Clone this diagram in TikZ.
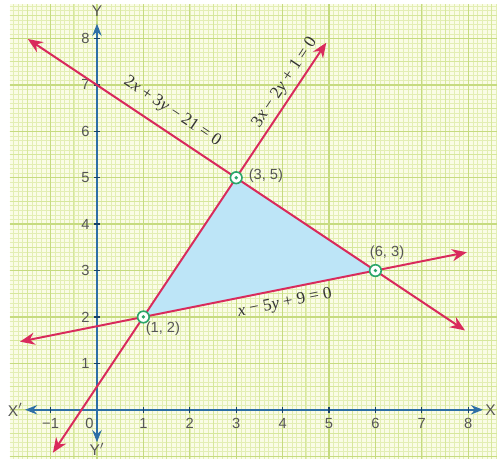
\documentclass[tikz,border=0pt]{standalone}
\usepackage{fontspec}
\setmainfont{Liberation Serif}
\newfontfamily\lsans{Liberation Sans}
\usetikzlibrary{arrows.meta}
\definecolor{gridbg}{HTML}{FAFCE6}
\definecolor{gridfine}{HTML}{E3EEB4}
\definecolor{gridhalf}{HTML}{D6E79C}
\definecolor{gridunit}{HTML}{C6DB80}
\definecolor{axisblue}{HTML}{2E6FA6}
\definecolor{linered}{HTML}{D92A5C}
\definecolor{regionblue}{HTML}{BDE5F7}
\definecolor{ptgreen}{HTML}{2BA66A}
\definecolor{labgray}{HTML}{555555}
\tikzset{
  axisline/.style={draw=axisblue, line width=1.2pt, -{Stealth[length=2.6mm,width=2mm]}},
  graphline/.style={draw=linered, line width=1.2pt, {Stealth[length=3.2mm,width=2.6mm]}-{Stealth[length=3.2mm,width=2.6mm]}},
  ticklab/.style={font=\lsans\fontsize{9}{10}\selectfont, text=labgray, inner sep=1pt},
  eqlab/.style={font=\fontsize{10.5}{12}\selectfont, text=black!80, inner sep=1pt},
  ptlab/.style={font=\lsans\fontsize{9}{10}\selectfont, text=labgray, inner sep=1pt},
  vertex/.style={circle, draw=ptgreen, fill=white, line width=1pt, minimum size=2.5mm, inner sep=0pt},
}
\begin{document}
\begin{tikzpicture}[x=1cm,y=1cm]
\useasboundingbox (-2.09,-1.06) rectangle (8.62,8.83);
\fill[white] (-2.09,-1.06) rectangle (8.62,8.83);
% graph paper
\fill[gridbg] (-1.88,-1.06) rectangle (8.62,8.74);
\draw[gridfine, line width=0.3pt, step=0.1] (-1.88,-1.06) grid (8.62,8.74);
\draw[gridhalf, line width=0.5pt, step=0.5] (-1.88,-1.06) grid (8.62,8.74);
\draw[gridunit, line width=0.8pt, step=1] (-1.88,-1.06) grid (8.62,8.74);
% feasible region
\coordinate (P1) at (1,2);
\coordinate (P2) at (3,5);
\coordinate (P3) at (6,3);
\fill[regionblue] (P1) -- (P2) -- (P3) -- cycle;
% axes
\coordinate (xl) at (-1.55,0);
\coordinate (xr) at (8.32,0);
\coordinate (yb) at (0,-0.70);
\coordinate (yt) at (0,8.32);
\draw[axisline] (0,0) -- (xr);
\draw[axisline] (0,0) -- (xl);
\draw[axisline] (0,0) -- (yt);
\draw[axisline] (0,0) -- (yb);
\node[ticklab, font=\lsans\fontsize{9.5}{10}\selectfont] (X) at (8.48,0) {X};
\node[ticklab, font=\lsans\fontsize{9.5}{10}\selectfont] (Xp) at (-1.76,0) {X$'$};
\node[ticklab, font=\lsans\fontsize{9.5}{10}\selectfont] (Y) at (0,8.6) {Y};
\node[ticklab, font=\lsans\fontsize{9.5}{10}\selectfont] (Yp) at (0,-0.86) {Y$'$};
\foreach \i in {-1,1,2,...,8} {
  \draw[axisblue!60!black, line width=0.8pt] (\i,-0.06) -- (\i,0.06);
  \node[ticklab] (tx\i) at (\i,-0.3) {\ifnum\i<0 −1\else\i\fi};
}
\foreach \i in {1,...,8} {
  \draw[axisblue!60!black, line width=0.8pt] (-0.06,\i) -- (0.06,\i);
  \node[ticklab, anchor=east] (ty\i) at (-0.12,\i) {\i};
}
\node[ticklab] (t0) at (-0.16,-0.3) {0};
% lines
\coordinate (a1) at (-1.49,7.99);
\coordinate (a2) at (7.93,1.71);
\coordinate (b1) at (-0.95,-0.925);
\coordinate (b2) at (4.94,7.91);
\coordinate (c1) at (-1.66,1.468);
\coordinate (c2) at (7.97,3.394);
\draw[graphline] (a1) -- (a2);
\draw[graphline] (b1) -- (b2);
\draw[graphline] (c1) -- (c2);
% equation labels
\node[eqlab, rotate=-33.69] (la) at (1.62,6.42) {2\textit{x} + 3\textit{y} − 21 = 0};
\node[eqlab, rotate=56.31] (lb) at (4.05,7.05) {3\textit{x} − 2\textit{y} + 1 = 0};
\node[eqlab, rotate=11.31] (lc) at (4.05,2.3) {\textit{x} − 5\textit{y} + 9 = 0};
% vertices
\node[vertex] (v1) at (P1) {};
\node[vertex] (v2) at (P2) {};
\node[vertex] (v3) at (P3) {};
\fill[ptgreen] (P1) circle (0.04);
\fill[ptgreen] (P2) circle (0.04);
\fill[ptgreen] (P3) circle (0.04);
\node[ptlab] (l1) at (1.42,1.74) {(1, 2)};
\node[ptlab] (l2) at (3.64,5.05) {(3, 5)};
\node[ptlab] (l3) at (6.25,3.38) {(6, 3)};
\end{tikzpicture}
\end{document}
